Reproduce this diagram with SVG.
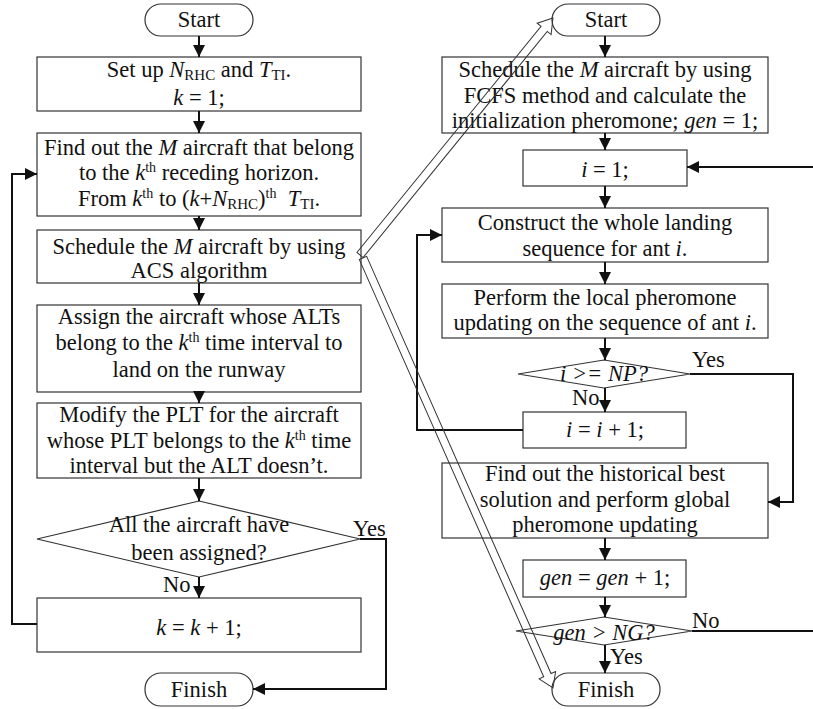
<svg xmlns="http://www.w3.org/2000/svg" width="813" height="709" viewBox="0 0 813 709">
<defs>
<marker id="ah" markerUnits="userSpaceOnUse" markerWidth="12" markerHeight="12" refX="12" refY="6" orient="auto">
<path d="M0,0 L12,6 L0,12 z" fill="#111"/>
</marker>
</defs>
<style>
.b{fill:#fff;stroke:#333;stroke-width:1.2}
.t{font-family:"Liberation Serif","Times New Roman","DejaVu Serif",serif;font-size:22.5px;fill:#111;text-anchor:middle}
.l{font-family:"Liberation Serif","Times New Roman","DejaVu Serif",serif;font-size:22.5px;fill:#111}
.c{fill:none;stroke:#111;stroke-width:2;marker-end:url(#ah)}
.cn{fill:none;stroke:#111;stroke-width:2}
.h{fill:none;stroke:#333;stroke-width:1}
.i{font-style:italic}
.s{font-size:15px}
.p{font-size:14px}
</style>
<rect width="813" height="709" fill="#fff"/>

<g id="L_start"><rect class="b" x="145" y="4" width="108" height="32" rx="16"/><text class="t" x="199" y="27">Start</text></g>
<g id="L_setup"><rect class="b" x="37" y="57" width="324" height="54"/>
<text class="t" x="199" y="77">Set up <tspan class="i">N</tspan><tspan class="s" dy="3">RHC</tspan><tspan dy="-3"> and </tspan><tspan class="i">T</tspan><tspan class="s" dy="3">TI</tspan><tspan dy="-3">.</tspan></text>
<text class="t" x="199" y="105"><tspan class="i">k</tspan> = 1;</text></g>
<g id="L_find"><rect class="b" x="37" y="133" width="324" height="83"/>
<text class="t" x="199" y="155">Find out the <tspan class="i">M</tspan> aircraft that belong</text>
<text class="t" x="199" y="180">to the <tspan class="i">k</tspan><tspan class="p" dy="-8">th</tspan><tspan dy="8"> receding horizon.</tspan></text>
<text class="t" x="199" y="206">From <tspan class="i">k</tspan><tspan class="p" dy="-8">th</tspan><tspan dy="8"> to (</tspan><tspan class="i">k</tspan>+<tspan class="i">N</tspan><tspan class="s" dy="3">RHC</tspan><tspan dy="-3">)</tspan><tspan class="p" dy="-8">th</tspan><tspan dy="8">&#160; </tspan><tspan class="i">T</tspan><tspan class="s" dy="3">TI</tspan><tspan dy="-3">.</tspan></text></g>
<g id="L_sched"><rect class="b" x="37" y="230" width="324" height="53"/>
<text class="t" x="199" y="254">Schedule the <tspan class="i">M</tspan> aircraft by using</text>
<text class="t" x="199" y="278">ACS algorithm</text></g>
<g id="L_assign"><rect class="b" x="37" y="305" width="324" height="87"/>
<text class="t" x="199" y="324">Assign the aircraft whose ALTs</text>
<text class="t" x="199" y="350">belong to the <tspan class="i">k</tspan><tspan class="p" dy="-8">th</tspan><tspan dy="8"> time interval to</tspan></text>
<text class="t" x="199" y="377">land on the runway</text></g>
<g id="L_modify"><rect class="b" x="37" y="403" width="324" height="75"/>
<text class="t" x="199" y="422">Modify the PLT for the aircraft</text>
<text class="t" x="199" y="448">whose PLT belongs to the <tspan class="i">k</tspan><tspan class="p" dy="-8">th</tspan><tspan dy="8"> time</tspan></text>
<text class="t" x="199" y="473">interval but the ALT doesn’t.</text></g>
<g id="L_dec"><polygon class="b" points="199,501 360,539 199,577 37,539"/>
<text class="t" x="199" y="532">All the aircraft have</text>
<text class="t" x="199" y="560">been assigned?</text></g>
<g id="L_inc"><rect class="b" x="37" y="598" width="324" height="54"/>
<text class="t" x="199" y="635"><tspan class="i">k</tspan> = <tspan class="i">k</tspan> + 1;</text></g>
<g id="L_finish"><rect class="b" x="145" y="673" width="108" height="33" rx="16"/><text class="t" x="199" y="697">Finish</text></g>

<g id="R_start"><rect class="b" x="552" y="4" width="108" height="32" rx="16"/><text class="t" x="606" y="27">Start</text></g>
<g id="R_fcfs"><rect class="b" x="442" y="57" width="326" height="76"/>
<text class="t" x="605" y="77">Schedule the <tspan class="i">M</tspan> aircraft by using</text>
<text class="t" x="605" y="103">FCFS method and calculate the</text>
<text class="t" x="605" y="128">initialization pheromone; <tspan class="i">gen</tspan> = 1;</text></g>
<g id="R_i1"><rect class="b" x="523" y="150" width="164" height="36"/>
<text class="t" x="605" y="177"><tspan class="i">i</tspan> = 1;</text></g>
<g id="R_construct"><rect class="b" x="442" y="208" width="326" height="54"/>
<text class="t" x="605" y="230">Construct the whole landing</text>
<text class="t" x="605" y="256">sequence for ant <tspan class="i">i</tspan>.</text></g>
<g id="R_local"><rect class="b" x="442" y="284" width="326" height="54"/>
<text class="t" x="605" y="305">Perform the local pheromone</text>
<text class="t" x="605" y="330">updating on the sequence of ant <tspan class="i">i</tspan>.</text></g>
<g id="R_dec1"><polygon class="b" points="604,360 690,374 604,388 518,374"/>
<text class="t i" x="604" y="381">i &gt;= NP?</text></g>
<g id="R_iinc"><rect class="b" x="523" y="412" width="163" height="36"/>
<text class="t" x="605" y="437"><tspan class="i">i</tspan> = <tspan class="i">i</tspan> + 1;</text></g>
<g id="R_global"><rect class="b" x="442" y="463" width="326" height="75"/>
<text class="t" x="605" y="481">Find out the historical best</text>
<text class="t" x="605" y="507">solution and perform global</text>
<text class="t" x="605" y="532">pheromone updating</text></g>
<g id="R_gen"><rect class="b" x="523" y="560" width="163" height="37"/>
<text class="t" x="605" y="585"><tspan class="i">gen</tspan> = <tspan class="i">gen</tspan> + 1;</text></g>
<g id="R_dec2"><polygon class="b" points="604,617 692,631 604,645 516,631"/>
<text class="t i" x="604" y="640">gen &gt; NG?</text></g>
<g id="R_finish"><rect class="b" x="552" y="673" width="108" height="33" rx="16"/><text class="t" x="606" y="697">Finish</text></g>

<g id="connectors">
<line class="c" x1="199" y1="36" x2="199" y2="57"/>
<line class="c" x1="199" y1="111" x2="199" y2="133"/>
<line class="c" x1="199" y1="216" x2="199" y2="230"/>
<line class="c" x1="199" y1="283" x2="199" y2="305"/>
<line class="c" x1="199" y1="392" x2="199" y2="403"/>
<line class="c" x1="199" y1="478" x2="199" y2="501"/>
<line class="c" x1="199" y1="577" x2="199" y2="598"/>
<polyline class="c" points="360,539 386,539 386,689 253,689"/>
<polyline class="c" points="37,624 12,624 12,174 37,174"/>
<text class="l" x="353" y="536">Yes</text>
<text class="l" x="163" y="592">No</text>

<line class="c" x1="605" y1="36" x2="605" y2="57"/>
<line class="c" x1="605" y1="133" x2="605" y2="150"/>
<line class="c" x1="605" y1="186" x2="605" y2="208"/>
<line class="c" x1="605" y1="262" x2="605" y2="284"/>
<line class="c" x1="605" y1="338" x2="605" y2="360"/>
<line class="c" x1="605" y1="388" x2="605" y2="412"/>
<polyline class="c" points="523,430 417,430 417,235 442,235"/>
<polyline class="c" points="690,374 793,374 793,502 768,502"/>
<line class="c" x1="605" y1="538" x2="605" y2="560"/>
<line class="c" x1="605" y1="597" x2="605" y2="617"/>
<line class="c" x1="605" y1="645" x2="605" y2="673"/>
<line class="cn" x1="692" y1="631" x2="813" y2="631"/>
<line class="c" x1="813" y1="167" x2="687" y2="167"/>
<text class="l" x="692" y="367">Yes</text>
<text class="l" x="572" y="405">No</text>
<text class="l" x="692" y="628">No</text>
<text class="l" x="610" y="664">Yes</text>

<polygon class="h" transform="translate(360,255) rotate(-50.84)" points="0,-4 291.6,-4 291.6,-9 305.6,0 291.6,9 291.6,4 0,4"/>
<polygon class="h" transform="translate(363,258) rotate(66.16)" points="0,-4 456.1,-4 456.1,-9 470.1,0 456.1,9 456.1,4 0,4"/>
</g>
</svg>
